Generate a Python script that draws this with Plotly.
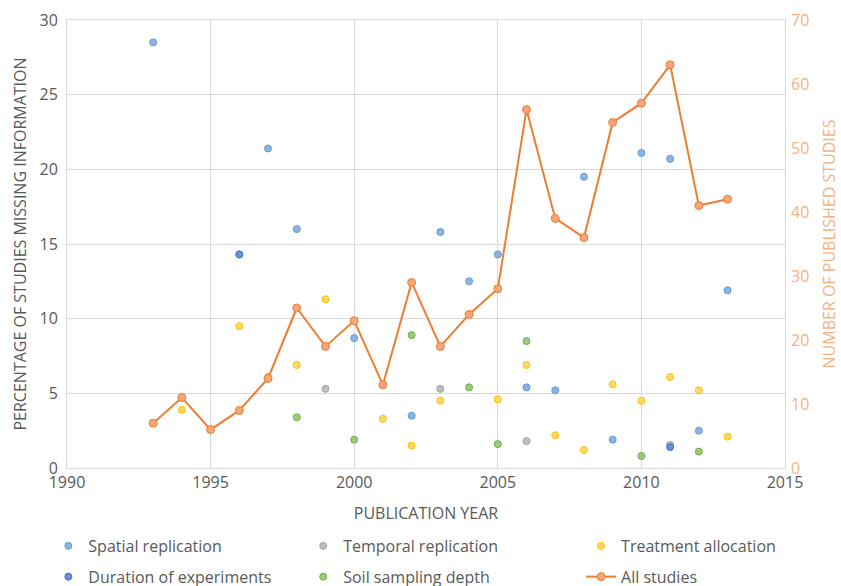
import plotly.graph_objects as go

# ---- data ----
spatial_x = [1993, 1996, 1997, 1998, 2000, 2002, 2003, 2004, 2005, 2006, 2007, 2008, 2009, 2010, 2011, 2012, 2013]
spatial_y = [28.5, 14.3, 21.4, 16.0, 8.7, 3.5, 15.8, 12.5, 14.3, 5.4, 5.2, 19.5, 1.9, 21.1, 20.7, 2.5, 11.9]

temporal_x = [1999, 2003, 2006, 2011]
temporal_y = [5.3, 5.3, 1.8, 1.55]

treatment_x = [1994, 1996, 1997, 1998, 1999, 2001, 2002, 2003, 2005, 2006, 2007, 2008, 2009, 2010, 2011, 2012, 2013]
treatment_y = [3.9, 9.5, 6.1, 6.9, 11.3, 3.3, 1.5, 4.5, 4.6, 6.9, 2.2, 1.2, 5.6, 4.5, 6.1, 5.2, 2.1]

duration_x = [1996, 2011]
duration_y = [14.3, 1.4]

soil_x = [1998, 2000, 2002, 2004, 2005, 2006, 2010, 2012]
soil_y = [3.4, 1.9, 8.9, 5.4, 1.6, 8.5, 0.8, 1.1]

all_x = [1993, 1994, 1995, 1996, 1997, 1998, 1999, 2000, 2001, 2002, 2003, 2004, 2005,
         2006, 2007, 2008, 2009, 2010, 2011, 2012, 2013]
all_y = [7, 11, 6, 9, 14, 25, 19, 23, 13, 29, 19, 24, 28, 56, 39, 36, 54, 57, 63, 41, 42]

FONT = "Open Sans"
GRAY = "#595959"
ORANGE_TXT = "#F4B183"

fig = go.Figure()

def scatter(x, y, name, fill, line, legend, group):
    fig.add_trace(go.Scatter(
        x=x, y=y, name=name, mode="markers",
        marker=dict(size=7, color=fill, line=dict(color=line, width=1)),
        legend=legend, legendgroup=group,
    ))

scatter(spatial_x, spatial_y, "Spatial replication", "#8EB4E3", "#5B9BD5", "legend", "a")
scatter(temporal_x, temporal_y, "Temporal replication", "#BFBFBF", "#A5A5A5", "legend2", "c")
scatter(treatment_x, treatment_y, "Treatment allocation", "#FFD966", "#FFC000", "legend3", "e")
scatter(duration_x, duration_y, "Duration of experiments", "#6A8FD6", "#4472C4", "legend", "b")
scatter(soil_x, soil_y, "Soil sampling depth", "#9BCB7E", "#70AD47", "legend2", "d")

fig.add_trace(go.Scatter(
    x=all_x, y=all_y, name="All studies", mode="lines+markers", yaxis="y2",
    line=dict(color="#ED7D31", width=2),
    marker=dict(size=8, color="#F4A77A", line=dict(color="#ED7D31", width=1)),
    legend="legend3", legendgroup="f",
))

legend_common = dict(
    orientation="v", bgcolor="rgba(0,0,0,0)", borderwidth=0,
    font=dict(family=FONT, size=16, color=GRAY),
    yanchor="top", xanchor="left", tracegroupgap=7, itemwidth=30,
)

fig.update_layout(
    width=841, height=586,
    margin=dict(l=67, r=56, t=20, b=118, autoexpand=False),
    plot_bgcolor="white", paper_bgcolor="white",
    font=dict(family=FONT, size=16, color=GRAY),
    showlegend=True,
    xaxis=dict(
        range=[1990, 2015], dtick=5, tick0=1990,
        showgrid=True, gridcolor="#D9D9D9", gridwidth=1,
        showline=True, linecolor="#D9D9D9", mirror=True, zeroline=False,
        tickfont=dict(family=FONT, size=16, color=GRAY), ticks="",
        title=dict(text="PUBLICATION YEAR", font=dict(family=FONT, size=16, color=GRAY), standoff=15),
    ),
    yaxis=dict(
        range=[0, 30], dtick=5,
        showgrid=True, gridcolor="#D9D9D9", gridwidth=1,
        showline=True, linecolor="#D9D9D9", mirror=True, zeroline=False,
        tickfont=dict(family=FONT, size=16, color=GRAY), ticks="", ticklabelstandoff=5,
        title=dict(text="PERCENTAGE OF STUDIES MISSING INFORMATION",
                   font=dict(family=FONT, size=16, color=GRAY), standoff=8),
    ),
    yaxis2=dict(
        range=[0, 70], dtick=10, overlaying="y", side="right",
        showgrid=False, zeroline=False, showline=False,
        tickfont=dict(family=FONT, size=16, color=ORANGE_TXT), ticks="", ticklabelstandoff=5,
        title=dict(text="NUMBER OF PUBLISHED STUDIES",
                   font=dict(family=FONT, size=16, color=ORANGE_TXT), standoff=15),
    ),
    legend=dict(x=-0.026, y=-0.136, **legend_common),
    legend2=dict(x=0.329, y=-0.136, **legend_common),
    legend3=dict(x=0.716, y=-0.136, **legend_common),
)

fig.write_html("out.html", config={"displayModeBar": False},
               post_script="document.body.style.margin='0px';")
